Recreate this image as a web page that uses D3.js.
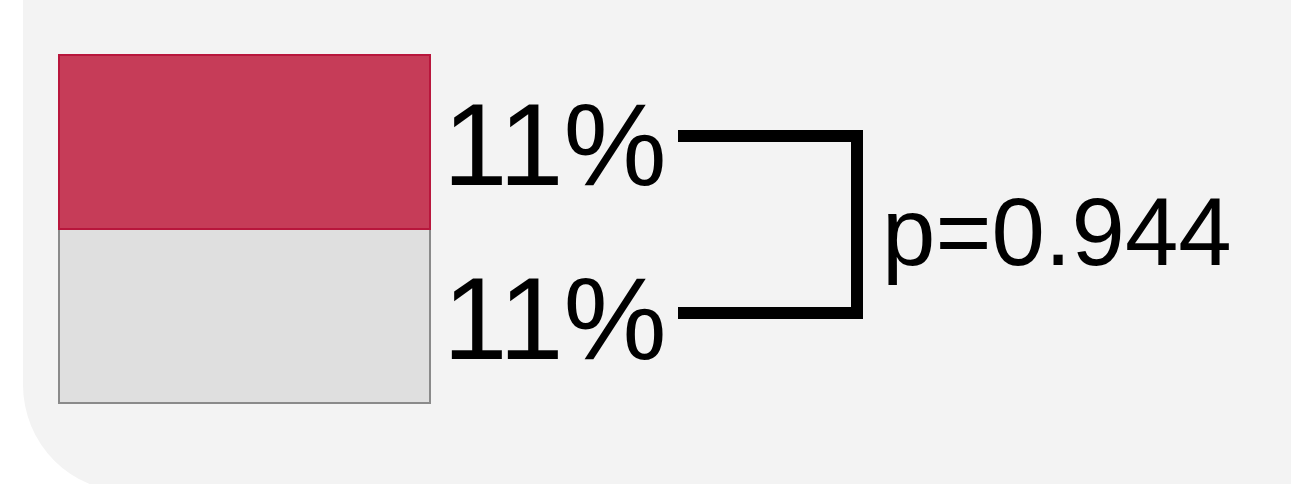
<!DOCTYPE html>
<html>
<head>
<meta charset="utf-8">
<script src="https://cdn.jsdelivr.net/npm/d3@7"></script>
<style>
  html, body { margin: 0; padding: 0; background: #ffffff; }
  svg { display: block; }
</style>
</head>
<body>
<div id="chart"></div>
<script>
// values for the two stacked cells
const groups = ["A", "B"];
const percents = [11, 11];
const fills = ["#c63c58", "#dfdfdf"];
const strokes = ["#b8163c", "#8a8a8a"];
const pValue = "0.944";

const width = 1291;
const height = 484;

const svg = d3.select("#chart")
    .append("svg")
        .attr("width", width)
        .attr("height", height);

// light panel with rounded bottom-left corner
const r = 107;
const px = 23;
const pb = 492;
svg.append("path")
    .attr("d", `M${px},0 H${width} V${height} H${px + r} ` +
        `L${px + r},${pb} A${r},${r} 0 0 1 ${px},${pb - r} Z`)
    .attr("fill", "#f3f3f3");

//scale for the cells
const y = d3.scaleBand()
    .domain(groups)
    .range([55, 403])
    .padding(0);

const x0 = 59, x1 = 430;

svg.selectAll("rect.cell")
    .data(groups)
    .enter()
    .append("rect")
        .attr("class", "cell")
        .attr("x", x0)
        .attr("y", d => y(d))
        .attr("width", x1 - x0)
        .attr("height", y.bandwidth())
        .attr("fill", (d, i) => fills[i])
        .attr("stroke", (d, i) => strokes[i])
        .attr("stroke-width", 2);

// redraw the red one on top so its border shows over the grey
svg.select("rect.cell").raise();

// percentage labels
svg.selectAll("text.pct")
    .data(groups)
    .enter()
    .append("text")
        .attr("class", "pct")
        .attr("x", 443)
        .attr("y", d => y(d) + y.bandwidth() / 2 + 43)
        .attr("font-family", "Liberation Sans, Arial, sans-serif")
        .attr("font-size", 116)
        .attr("fill", "#000")
        .text((d, i) => percents[i] + "%");

// bracket between the two labels
const ya = y(groups[0]) + y.bandwidth() / 2 - 6;
const yb = y(groups[1]) + y.bandwidth() / 2 - 3;
const bx0 = 678, bx1 = 857;
svg.append("path")
    .attr("d", `M${bx0},${ya} H${bx1} V${yb} H${bx0}`)
    .attr("fill", "none")
    .attr("stroke", "#000")
    .attr("stroke-width", 12)
    .attr("stroke-linejoin", "miter");

svg.append("text")
    .attr("x", 882)
    .attr("y", 265)
    .attr("font-family", "Liberation Sans, Arial, sans-serif")
    .attr("font-size", 96)
    .attr("fill", "#000")
    .text("p=" + pValue);
</script>
</body>
</html>
